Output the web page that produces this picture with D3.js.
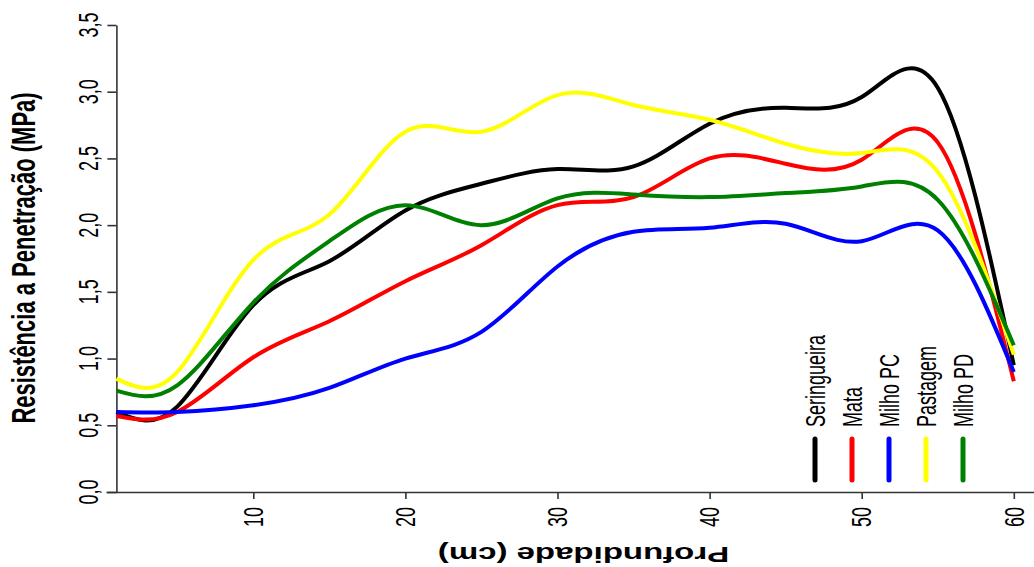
<!DOCTYPE html>
<html>
<head>
<meta charset="utf-8">
<script src="https://cdn.jsdelivr.net/npm/d3@7"></script>
<style>
  body { margin: 0; background: #fff; }
  svg { display: block; }
  text { font-family: "Liberation Sans", Arial, sans-serif; fill: #000; }
  .axis path, .axis line { stroke: #333; stroke-width: 1.6px; }
</style>
</head>
<body>
<div id="chart"></div>
<script>
// profundidade (cm)
const depth = [1, 5, 10, 15, 20, 25, 30, 35, 40, 45, 50, 55, 60];

// resistencia a penetracao (MPa) por uso do solo
const seringueira = [0.60, 0.64, 1.40, 1.73, 2.11, 2.31, 2.42, 2.44, 2.76, 2.88, 2.96, 3.03, 0.95];
const mata        = [0.57, 0.60, 1.01, 1.28, 1.58, 1.85, 2.15, 2.21, 2.50, 2.46, 2.49, 2.62, 0.83];
const milhoPC     = [0.60, 0.60, 0.65, 0.78, 1.00, 1.20, 1.69, 1.95, 1.98, 2.01, 1.88, 1.96, 0.90];
const pastagem    = [0.85, 0.90, 1.74, 2.08, 2.70, 2.70, 2.975, 2.90, 2.79, 2.61, 2.54, 2.40, 1.03];
const milhoPD     = [0.76, 0.80, 1.42, 1.88, 2.15, 2.00, 2.20, 2.23, 2.21, 2.24, 2.29, 2.19, 1.10];

const seriesNames = ['Seringueira', 'Mata', 'Milho PC', 'Pastagem', 'Milho PD'];
const seriesColors = ['#000000', '#ff0000', '#0000ff', '#ffff00', '#008000'];
const seriesValues = [seringueira, mata, milhoPC, pastagem, milhoPD];

const xTicks = [10, 20, 30, 40, 50, 60];
const yTicks = [0, 0.5, 1, 1.5, 2, 2.5, 3, 3.5];

const width = 1034, height = 567;
const sx = 1.5; // the original picture is stretched horizontally

const svg = d3.select('#chart').append('svg')
  .attr('width', width)
  .attr('height', height);

const x = d3.scaleLinear().domain([0, 60]).range([101.2, 1013.8]);
const y = d3.scaleLinear().domain([0, 3.5]).range([492, 25]);

// helper: text stretched horizontally, optionally rotated
function label(px, py, rot, str, opts) {
  return svg.append('text')
    .attr('transform', `translate(${px},${py}) scale(${sx},1) rotate(${rot})`)
    .attr('text-anchor', opts.anchor || 'middle')
    .attr('dy', opts.dy || 0)
    .style('font-size', opts.size + 'px')
    .style('font-weight', opts.weight || 'normal')
    .text(str);
}

// x axis
const xAxisScale = x.copy().domain([x.invert(106), x.invert(1034)]).range([106, 1034]);
svg.append('g')
  .attr('class', 'axis')
  .attr('transform', `translate(0,${y(0)})`)
  .call(d3.axisBottom(xAxisScale).tickValues(xTicks).tickSize(7).tickSizeOuter(0).tickFormat(''));

xTicks.forEach(t => label(x(t), 507, -90, t, { anchor: 'end', dy: '0.36em', size: 18 }));

// y axis
svg.append('g')
  .attr('class', 'axis')
  .attr('transform', `translate(${x(1)},0)`)
  .call(d3.axisLeft(y).tickValues(yTicks).tickSize(9).tickSizeOuter(0).tickFormat(''));

yTicks.forEach(t => label(88, y(t), -90, d3.format('.1f')(t).replace('.', ','), { dy: '0.36em', size: 18 }));

// axis titles
label(35, 258, -90, 'Resistência a Penetração (MPa)', { size: 22, weight: 'bold' });
label(583.5, 547, 180, 'Profundidade (cm)', { size: 22, weight: 'bold' });

// curves
const line = d3.line()
  .x((d, i) => x(depth[i]))
  .y(d => y(d))
  .curve(d3.curveNatural);

seriesValues.forEach((vals, i) => {
  svg.append('path')
    .attr('fill', 'none')
    .attr('stroke', seriesColors[i])
    .attr('stroke-width', 4)
    .attr('stroke-linejoin', 'round')
    .attr('d', line(vals));
});

// legend (vertical labels with short vertical strokes)
const legX = d3.scalePoint().domain(seriesNames).range([815, 963]);
seriesNames.forEach((name, i) => {
  label(legX(name), 427, -90, name, { anchor: 'start', dy: '0.36em', size: 18 });
  svg.append('line')
    .attr('x1', legX(name)).attr('x2', legX(name))
    .attr('y1', 439).attr('y2', 480)
    .attr('stroke', seriesColors[i])
    .attr('stroke-width', 5)
    .attr('stroke-linecap', 'round');
});
</script>
</body>
</html>
